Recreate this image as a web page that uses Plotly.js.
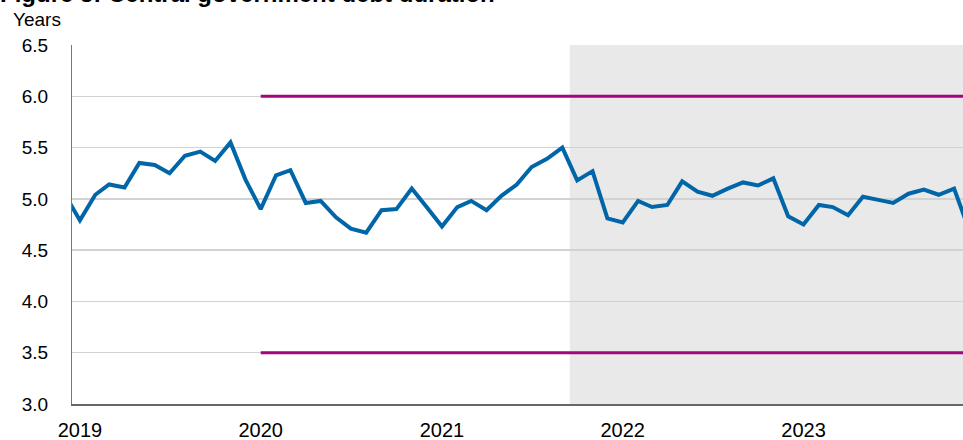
<!DOCTYPE html>
<html>
<head>
<meta charset="utf-8">
<script src="https://cdn.plot.ly/plotly-3.0.1.min.js"></script>
<style>html,body{margin:0;padding:0;background:#fff;}#chart{width:963px;height:440px;}</style>
</head>
<body>
<div id="chart"></div>
<script>
// Monthly observations, Dec 2018 .. Dec 2023
const months = [
  "2018-12","2019-01","2019-02","2019-03","2019-04","2019-05","2019-06","2019-07","2019-08","2019-09","2019-10","2019-11","2019-12",
  "2020-01","2020-02","2020-03","2020-04","2020-05","2020-06","2020-07","2020-08","2020-09","2020-10","2020-11","2020-12",
  "2021-01","2021-02","2021-03","2021-04","2021-05","2021-06","2021-07","2021-08","2021-09","2021-10","2021-11","2021-12",
  "2022-01","2022-02","2022-03","2022-04","2022-05","2022-06","2022-07","2022-08","2022-09","2022-10","2022-11","2022-12",
  "2023-01","2023-02","2023-03","2023-04","2023-05","2023-06","2023-07","2023-08","2023-09","2023-10","2023-11","2023-12"
];
const duration = [
  5.05, 4.79, 5.04, 5.14, 5.11, 5.35, 5.33, 5.25, 5.42, 5.46, 5.37, 5.55, 5.19,
  4.90, 5.23, 5.28, 4.96, 4.98, 4.82, 4.71, 4.67, 4.89, 4.90, 5.10, 4.92,
  4.73, 4.92, 4.98, 4.89, 5.03, 5.14, 5.31, 5.39, 5.50, 5.18, 5.27, 4.81,
  4.77, 4.98, 4.92, 4.94, 5.17, 5.07, 5.03, 5.10, 5.16, 5.13, 5.20, 4.83,
  4.75, 4.94, 4.92, 4.84, 5.02, 4.99, 4.96, 5.05, 5.09, 5.04, 5.10, 4.70
];
const bandX = ["2020-01", "2024-06"];
const bandUpper = [6.0, 6.0];
const bandLower = [3.5, 3.5];
const shadeStart = "2021-09-16";
const shadeEnd = "2024-06-01";
const yearTicks = ["2019-01-01","2020-01-01","2021-01-01","2022-01-01","2023-01-01"];
const yearLabels = ["2019","2020","2021","2022","2023"];
const yTicks = [3.0, 3.5, 4.0, 4.5, 5.0, 5.5, 6.0, 6.5];
const yLabels = ["3.0","3.5","4.0","4.5","5.0","5.5","6.0","6.5"];

const FONT = "'Liberation Sans', Arial, Helvetica, sans-serif";
const PURPLE = "#a3057f";
const BLUE = "#0066a8";

const traces = [
  {x: bandX, y: bandUpper, type: "scatter", mode: "lines", line: {color: PURPLE, width: 3}, hoverinfo: "skip", showlegend: false},
  {x: bandX, y: bandLower, type: "scatter", mode: "lines", line: {color: PURPLE, width: 3}, hoverinfo: "skip", showlegend: false},
  {x: months, y: duration, type: "scatter", mode: "lines", line: {color: BLUE, width: 4, shape: "linear"}, showlegend: false}
];

const layout = {
  width: 963, height: 440,
  margin: {l: 72, r: 0, t: 45, b: 36, pad: 0},
  paper_bgcolor: "#ffffff", plot_bgcolor: "rgba(0,0,0,0)",
  font: {family: FONT, size: 19, color: "#000"},
  title: {
    text: "<b>Figure 5: Central government debt duration</b>",
    font: {family: FONT, size: 24, color: "#000"},
    x: 0, xref: "container", xanchor: "left",
    y: 1, yref: "container", yanchor: "top",
    pad: {t: -15, l: 0, r: 0, b: 0}
  },
  xaxis: {
    type: "date",
    range: ["2018-12-16", "2023-11-19"],
    tickmode: "array", tickvals: yearTicks, ticktext: yearLabels,
    showgrid: false, zeroline: false,
    showline: true, linecolor: "#666", linewidth: 1.5,
    ticks: "", ticklabelstandoff: 7,
    tickfont: {family: FONT, size: 20, color: "#000"}
  },
  yaxis: {
    range: [3.0, 6.5],
    tickmode: "array", tickvals: yTicks, ticktext: yLabels,
    showgrid: true, gridcolor: "#d2d2d2", gridwidth: 1.5,
    zeroline: false,
    showline: true, linecolor: "#777", linewidth: 1,
    ticks: "", ticklabelstandoff: 19,
    tickfont: {family: FONT, size: 19, color: "#000"}
  },
  shapes: [{
    type: "rect", xref: "x", yref: "paper",
    x0: shadeStart, x1: shadeEnd, y0: 0, y1: 1,
    fillcolor: "#e9e9e9", line: {width: 0}, layer: "below"
  }],
  annotations: [{
    text: "Years", showarrow: false,
    xref: "paper", yref: "paper",
    x: -61/891, xanchor: "left",
    y: 1 + 25/359, yanchor: "middle",
    font: {family: FONT, size: 19, color: "#000"}
  }]
};

Plotly.newPlot("chart", traces, layout, {staticPlot: true, displayModeBar: false});
</script>
</body>
</html>
